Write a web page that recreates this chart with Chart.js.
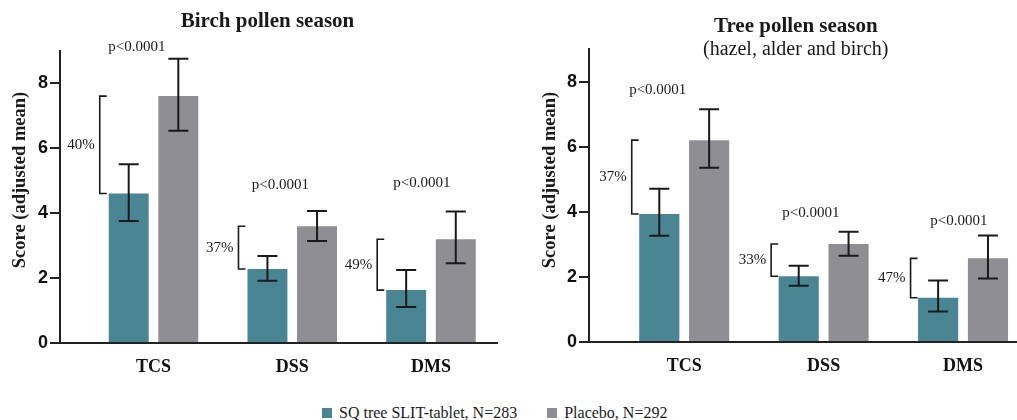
<!DOCTYPE html>
<html><head><meta charset="utf-8">
<script src="https://cdn.jsdelivr.net/npm/chart.js@4"></script>
<style>
html,body{margin:0;padding:0;background:#fff;width:1017px;height:420px;overflow:hidden;position:relative}
#c1{position:absolute;left:0;top:0}
#c2{position:absolute;left:530px;top:0}
#legend{position:absolute;left:322px;top:404px;font:16px 'Liberation Serif',serif;color:#1a1a1a;white-space:nowrap;display:flex;align-items:center;line-height:18px}
.sw{display:inline-block;width:10px;height:10px;margin-right:7px}
.item{display:flex;align-items:center;margin-right:30px}
</style></head>
<body>
<canvas id="c1" width="500" height="390"></canvas>
<canvas id="c2" width="487" height="390"></canvas>
<div id="legend"></div>
<script>
// ---- data ----
const categories = ['TCS', 'DSS', 'DMS'];
const seriesNames = ['SQ tree SLIT-tablet, N=283', 'Placebo, N=292'];
const seriesColors = ['#4a8594', '#8f8e93'];
const yTicks = [0, 2, 4, 6, 8];

const birchActive      = [4.61, 2.28, 1.63];
const birchActiveLow   = [3.76, 1.92, 1.11];
const birchActiveHigh  = [5.51, 2.68, 2.25];
const birchPlacebo     = [7.61, 3.60, 3.20];
const birchPlaceboLow  = [6.54, 3.14, 2.46];
const birchPlaceboHigh = [8.76, 4.07, 4.05];
const birchReduction   = ['40%', '37%', '49%'];
const birchPValues     = ['p<0.0001', 'p<0.0001', 'p<0.0001'];

const treeActive       = [3.93, 2.02, 1.36];
const treeActiveLow    = [3.26, 1.73, 0.94];
const treeActiveHigh   = [4.71, 2.34, 1.89];
const treePlacebo      = [6.20, 3.01, 2.57];
const treePlaceboLow   = [5.35, 2.65, 1.95];
const treePlaceboHigh  = [7.15, 3.39, 3.27];
const treeReduction    = ['37%', '33%', '47%'];
const treePValues      = ['p<0.0001', 'p<0.0001', 'p<0.0001'];

const yAxisTitle = 'Score (adjusted mean)';

// ---- drawing ----
const INK = '#1a1a1a';
const overlay = {
  id: 'overlay',
  afterDatasetsDraw(chart, args, o) {
    const ctx = chart.ctx, ys = chart.scales.y, xs = chart.scales.x;
    const metas = [chart.getDatasetMeta(0), chart.getDatasetMeta(1)];
    ctx.save();
    ctx.strokeStyle = INK; ctx.lineWidth = 2;
    metas.forEach((m, d) => {
      m.data.forEach((bar, i) => {
        const yl = ys.getPixelForValue(o.low[d][i]), yh = ys.getPixelForValue(o.high[d][i]);
        ctx.beginPath();
        ctx.moveTo(bar.x, yl); ctx.lineTo(bar.x, yh);
        ctx.moveTo(bar.x - 10, yl); ctx.lineTo(bar.x + 10, yl);
        ctx.moveTo(bar.x - 10, yh); ctx.lineTo(bar.x + 10, yh);
        ctx.stroke();
      });
    });
    // brackets + reduction labels
    ctx.lineWidth = 1.6;
    ctx.font = "15px 'Liberation Serif'";
    ctx.fillStyle = INK;
    metas[0].data.forEach((bar, i) => {
      const bx = bar.x - bar.width / 2 - o.bracketGap;
      const yTop = ys.getPixelForValue(o.placebo[i]);
      const yBot = ys.getPixelForValue(o.active[i]);
      ctx.beginPath();
      ctx.moveTo(bx + 7, yTop); ctx.lineTo(bx, yTop); ctx.lineTo(bx, yBot); ctx.lineTo(bx + 7, yBot);
      ctx.stroke();
      ctx.textAlign = 'right'; ctx.textBaseline = 'middle';
      ctx.fillText(o.reduction[i], bx - 5, (yTop + yBot) / 2);
    });
    // p-values
    ctx.textAlign = 'center'; ctx.textBaseline = 'middle';
    o.pText.forEach((t, i) => {
      ctx.fillText(t, xs.getPixelForValue(o.pAnchor[i][0]), ys.getPixelForValue(o.pAnchor[i][1]));
    });
    ctx.restore();
  },
  afterDraw(chart, args, o) {
    const ctx = chart.ctx;
    ctx.save();
    ctx.fillStyle = INK;
    ctx.textAlign = 'center'; ctx.textBaseline = 'middle';
    o.titles.forEach(t => {
      ctx.font = t.font;
      ctx.fillText(t.text, t.x, t.y);
    });
    ctx.translate(o.yTitlePos[0], o.yTitlePos[1]);
    ctx.rotate(-Math.PI / 2);
    ctx.font = "bold 18.5px 'Liberation Serif'";
    ctx.fillText(yAxisTitle, 0, 0);
    ctx.restore();
  }
};

function makeChart(id, p) {
  const pts = arr => arr.map((v, i) => ({x: i, y: v}));
  return new Chart(document.getElementById(id), {
    type: 'bar',
    data: {
      datasets: [
        {label: seriesNames[0], data: pts(p.active), backgroundColor: seriesColors[0], borderWidth: 0},
        {label: seriesNames[1], data: pts(p.placebo), backgroundColor: seriesColors[1], borderWidth: 0}
      ]
    },
    options: {
      responsive: false, animation: false,
      categoryPercentage: 0.715, barPercentage: 0.805,
      layout: {padding: p.padding},
      plugins: {
        legend: {display: false}, tooltip: {enabled: false},
        overlay: {
          active: p.active, placebo: p.placebo,
          low: [p.activeLow, p.placeboLow], high: [p.activeHigh, p.placeboHigh],
          reduction: p.reduction, pText: p.pText, pAnchor: p.pAnchor,
          bracketGap: p.bracketGap, titles: p.titles, yTitlePos: p.yTitlePos
        }
      },
      scales: {
        x: {
          type: 'linear', offset: false, min: p.xRange[0], max: p.xRange[1],
          afterBuildTicks: s => { s.ticks = categories.map((c, i) => ({value: i})); },
          afterFit: s => { s.height = p.xHeight; },
          ticks: {callback: v => categories[v] ?? '', padding: 14, maxRotation: 0, autoSkip: false,
                  color: '#111', font: {family: 'Liberation Serif', size: 18, weight: 'bold'}},
          grid: {display: false, drawTicks: false, offset: false},
          border: {display: true, color: '#222', width: 2}
        },
        y: {
          min: 0, max: 9,
          afterBuildTicks: s => { s.ticks = yTicks.map(v => ({value: v})); },
          afterFit: s => { s.width = 30; },
          ticks: {padding: 2, color: '#111', font: {family: 'Liberation Sans', size: 18, weight: 'bold'}},
          grid: {drawOnChartArea: false, drawTicks: true, tickLength: 10, color: '#222', lineWidth: 2},
          border: {display: true, color: '#222', width: 2}
        }
      }
    },
    plugins: [overlay]
  });
}

makeChart('c1', {
  active: birchActive, placebo: birchPlacebo,
  activeLow: birchActiveLow, activeHigh: birchActiveHigh,
  placeboLow: birchPlaceboLow, placeboHigh: birchPlaceboHigh,
  reduction: birchReduction, pText: birchPValues,
  pAnchor: [[-0.12, 9.12], [0.915, 4.87], [1.935, 4.93]],
  padding: {left: 30, top: 51, right: 3, bottom: 0},
  xRange: [-0.674, 2.476], xHeight: 47, bracketGap: 9,
  titles: [{text: 'Birch pollen season', font: "bold 21px 'Liberation Serif'", x: 267.5, y: 22}],
  yTitlePos: [20, 180]
});

makeChart('c2', {
  active: treeActive, placebo: treePlacebo,
  activeLow: treeActiveLow, activeHigh: treeActiveHigh,
  placeboLow: treePlaceboLow, placeboHigh: treePlaceboHigh,
  reduction: treeReduction, pText: treePValues,
  pAnchor: [[-0.19, 7.74], [0.908, 3.97], [1.97, 3.73]],
  padding: {left: 29, top: 49, right: 0, bottom: 0},
  xRange: [-0.683, 2.387], xHeight: 48, bracketGap: 7.5,
  titles: [
    {text: 'Tree pollen season', font: "bold 21px 'Liberation Serif'", x: 265.8, y: 27},
    {text: '(hazel, alder and birch)', font: "20px 'Liberation Serif'", x: 265.8, y: 50}
  ],
  yTitlePos: [20, 180]
});

// legend
const lg = document.getElementById('legend');
seriesNames.forEach((n, i) => {
  const it = document.createElement('span'); it.className = 'item';
  const sw = document.createElement('span'); sw.className = 'sw'; sw.style.background = seriesColors[i];
  it.appendChild(sw); it.appendChild(document.createTextNode(n));
  lg.appendChild(it);
});
</script>
</body></html>
